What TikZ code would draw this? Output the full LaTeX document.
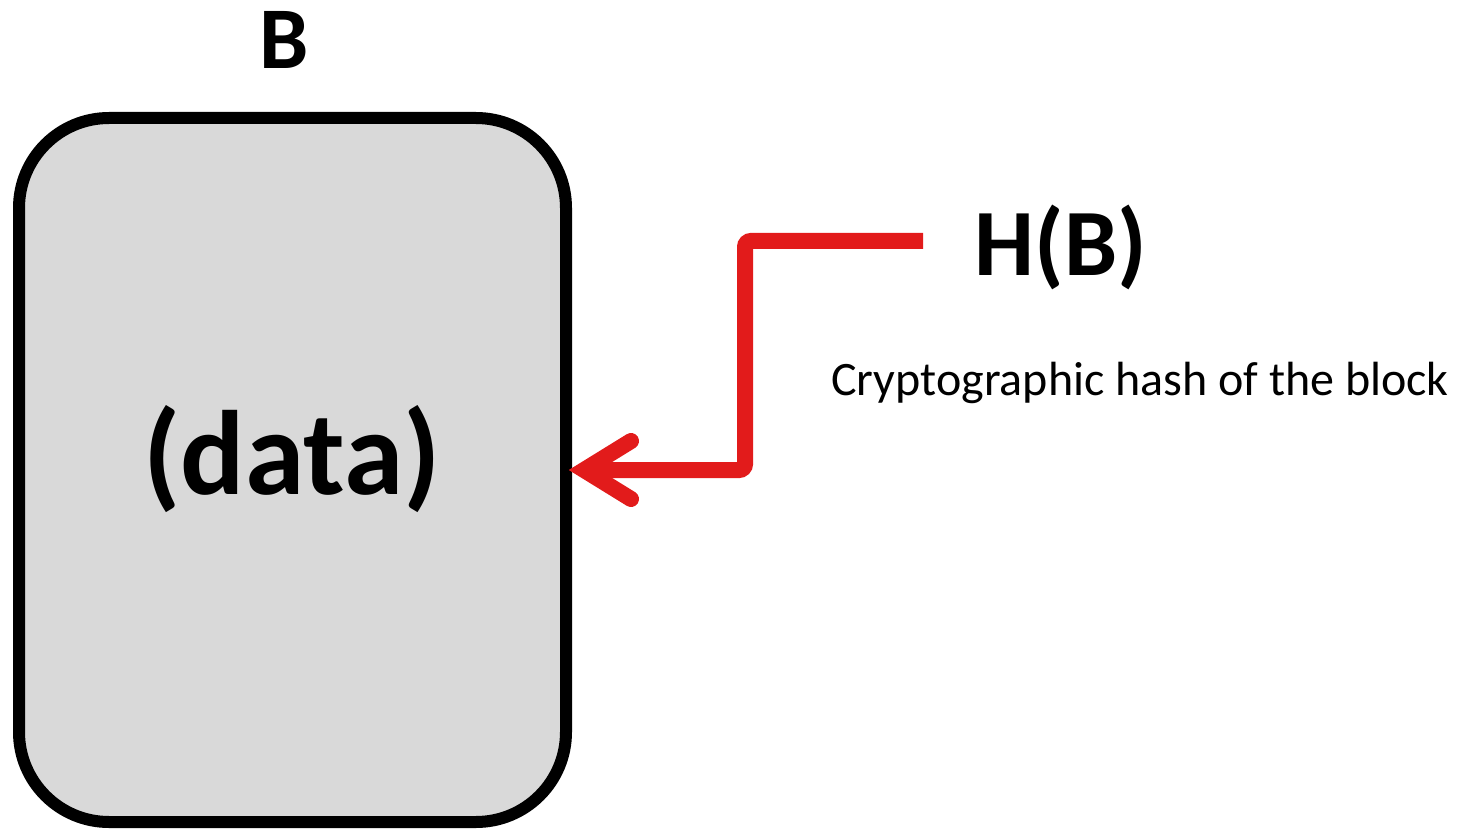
\documentclass[tikz,border=0pt]{standalone}
\usepackage{fontspec}
\setmainfont{Carlito}
\begin{document}
\begin{tikzpicture}[x=1pt,y=-1pt,
  block/.style={draw=black, line width=12pt, fill=black!15, rounded corners=90pt},
  link/.style={draw={rgb,255:red,226;green,27;blue,27}, line width=16pt},
  title/.style={font=\bfseries\fontsize{88}{90}\selectfont, inner sep=0pt}]
  \useasboundingbox (0,0) rectangle (1460,829);
  % the block
  \draw[block] (19,118) rectangle (566,822);
  \node[title] (B) at (284,40) {B};
  \node[inner sep=0pt, font=\bfseries\fontsize{120}{122}\selectfont] (data) at (292,459) {(data)};
  % hash label
  \node[inner sep=0pt, font=\bfseries\fontsize{95}{97}\selectfont] (H) at (1061,247) {H(B)};
  \node[inner sep=0pt, anchor=west, font=\fontsize{48}{50}\selectfont] (desc) at (831,383) {Cryptographic hash of the block};
  \coordinate (start) at (923,241);
  \coordinate (tip) at (584,470);
  % elbow connector from the hash to the block
  \draw[link, rounded corners=6pt] (start) -- (745,241) -- (745,470) -- (tip);
  \draw[link, line cap=round, line join=miter] (631,441) -- (tip) -- (631,499);
\end{tikzpicture}
\end{document}
